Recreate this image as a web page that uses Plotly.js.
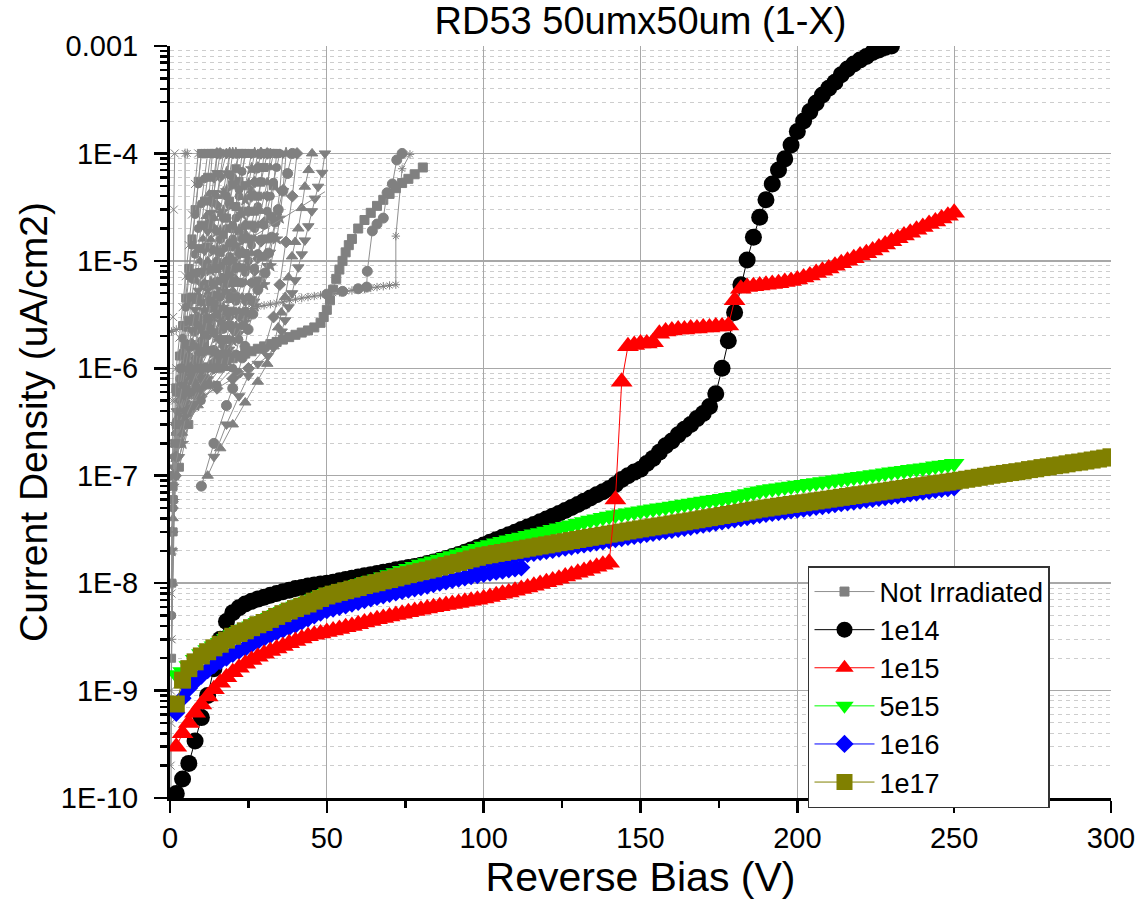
<!DOCTYPE html>
<html><head><meta charset="utf-8">
<script src="https://cdn.plot.ly/plotly-3.0.1.min.js"></script>
<style>html,body{margin:0;padding:0;background:#fff}#chart{width:1145px;height:920px}</style>
</head><body><div id="chart"></div>
<script>
// ---- axis tick labels ----
const yTickVals = [1e-10,1e-9,1e-8,1e-7,1e-6,1e-5,1e-4,1e-3];
const yTickText = ['1E-10','1E-9','1E-8','1E-7','1E-6','1E-5','1E-4','0.001'];
const xTickVals = [0,50,100,150,200,250,300];

// ---- bias steps (V) used by the irradiated samples ----
const biasV = [2,4,6,8,10,12,14,16,18,20,22,24,26,28,30,32,34,36,38,40,
42,44,46,48,50,52,54,56,58,60,62,64,66,68,70,72,74,76,78,80,
82,84,86,88,90,92,94,96,98,100,102,104,106,108,110,112,114,116,118,120,
122,124,126,128,130,132,134,136,138,140,142,144,146,148,150,152,154,156,158,160,
162,164,166,168,170,172,174,176,178,180,182,184,186,188,190,192,194,196,198,200,
202,204,206,208,210,212,214,216,218,220,222,224,226,228,230,232,234,236,238,240,
242,244,246,248,250,252,254,256,258,260,262,264,266,268,270,272,274,276,278,280,
282,284,286,288,290,292,294,296,298,300];

// 1e14 : 2 .. 230 V
const j1e14Start = 2;
const j1e14 = [1.1e-10,1.5e-10,2.1e-10,3.4e-10,5.6e-10,9e-10,1.6e-9,3.0e-9,4.4e-9,5.3e-9,
5.9e-9,6.4e-9,6.8e-9,7.1e-9,7.4e-9,7.7e-9,8.0e-9,8.3e-9,8.6e-9,8.9e-9,
9.1e-9,9.4e-9,9.6e-9,9.8e-9,1.0e-8,1.02e-8,1.05e-8,1.08e-8,1.11e-8,1.14e-8,
1.17e-8,1.2e-8,1.23e-8,1.26e-8,1.29e-8,1.33e-8,1.36e-8,1.4e-8,1.43e-8,1.47e-8,
1.52e-8,1.57e-8,1.63e-8,1.7e-8,1.77e-8,1.85e-8,1.94e-8,2.04e-8,2.15e-8,2.27e-8,
2.4e-8,2.53e-8,2.67e-8,2.82e-8,2.98e-8,3.15e-8,3.33e-8,3.52e-8,3.72e-8,3.95e-8,
4.2e-8,4.45e-8,4.75e-8,5.05e-8,5.4e-8,5.8e-8,6.2e-8,6.65e-8,7.1e-8,7.6e-8,
8.3e-8,9.2e-8,1.0e-7,1.08e-7,1.15e-7,1.3e-7,1.45e-7,1.65e-7,1.9e-7,2.1e-7,
2.4e-7,2.7e-7,3.0e-7,3.4e-7,3.8e-7,4.4e-7,5.8e-7,1.0e-6,1.8e-6,3.3e-6,
6.0e-6,1.02e-5,1.66e-5,2.55e-5,3.7e-5,5.2e-5,7.0e-5,8.9e-5,1.2e-4,1.6e-4,
2.0e-4,2.45e-4,2.95e-4,3.5e-4,4.05e-4,4.6e-4,5.4e-4,6.1e-4,6.8e-4,7.4e-4,
8.0e-4,8.7e-4,9.2e-4,9.7e-4,1.0e-3];

// 1e15 : 2 .. 250 V
const j1e15Start = 2;
const j1e15 = [3.0e-10,4.0e-10,5.0e-10,6.2e-10,7.4e-10,8.8e-10,1.03e-9,1.18e-9,1.33e-9,1.48e-9,
1.63e-9,1.78e-9,1.93e-9,2.07e-9,2.2e-9,2.33e-9,2.46e-9,2.6e-9,2.75e-9,2.9e-9,
3.05e-9,3.2e-9,3.3e-9,3.4e-9,3.5e-9,3.62e-9,3.75e-9,3.88e-9,4.0e-9,4.15e-9,
4.3e-9,4.45e-9,4.6e-9,4.75e-9,4.9e-9,5.05e-9,5.2e-9,5.35e-9,5.5e-9,5.65e-9,
5.8e-9,5.95e-9,6.1e-9,6.25e-9,6.4e-9,6.55e-9,6.7e-9,6.85e-9,7.0e-9,7.2e-9,
7.45e-9,7.7e-9,7.95e-9,8.2e-9,8.5e-9,8.8e-9,9.1e-9,9.45e-9,9.8e-9,1.02e-8,
1.06e-8,1.1e-8,1.15e-8,1.2e-8,1.25e-8,1.3e-8,1.36e-8,1.42e-8,1.48e-8,1.55e-8,
6.0e-8,7.5e-7,1.6e-6,1.65e-6,1.7e-6,1.7e-6,1.75e-6,2.1e-6,2.2e-6,2.25e-6,
2.3e-6,2.3e-6,2.35e-6,2.35e-6,2.4e-6,2.4e-6,2.45e-6,2.45e-6,2.5e-6,4.3e-6,
5.5e-6,5.7e-6,5.8e-6,5.9e-6,6.0e-6,6.1e-6,6.2e-6,6.35e-6,6.5e-6,6.7e-6,
7.0e-6,7.3e-6,7.7e-6,8.1e-6,8.5e-6,9.0e-6,9.5e-6,1.0e-5,1.06e-5,1.12e-5,
1.18e-5,1.25e-5,1.33e-5,1.42e-5,1.52e-5,1.62e-5,1.72e-5,1.83e-5,1.95e-5,2.07e-5,
2.2e-5,2.33e-5,2.48e-5,2.63e-5,2.8e-5];

// 5e15 : 2 .. 250 V
const j5e15Start = 2;
const j5e15 = [1.4e-9,1.5e-9,1.7e-9,1.95e-9,2.2e-9,2.4e-9,2.6e-9,2.8e-9,3.05e-9,3.3e-9,
3.55e-9,3.75e-9,4.0e-9,4.3e-9,4.5e-9,4.8e-9,5.1e-9,5.45e-9,5.8e-9,6.1e-9,
6.4e-9,6.75e-9,7.1e-9,7.55e-9,8.0e-9,8.3e-9,8.65e-9,8.95e-9,9.3e-9,9.7e-9,
1.01e-8,1.05e-8,1.09e-8,1.14e-8,1.2e-8,1.25e-8,1.31e-8,1.37e-8,1.43e-8,1.5e-8,
1.55e-8,1.61e-8,1.67e-8,1.73e-8,1.8e-8,1.87e-8,1.94e-8,2.02e-8,2.1e-8,2.2e-8,
2.28e-8,2.36e-8,2.44e-8,2.52e-8,2.6e-8,2.68e-8,2.77e-8,2.86e-8,2.95e-8,3.04e-8,
3.15e-8,3.26e-8,3.37e-8,3.48e-8,3.6e-8,3.72e-8,3.84e-8,3.96e-8,4.08e-8,4.2e-8,
4.3e-8,4.4e-8,4.5e-8,4.6e-8,4.7e-8,4.8e-8,4.9e-8,5.0e-8,5.1e-8,5.2e-8,
5.3e-8,5.42e-8,5.54e-8,5.66e-8,5.78e-8,5.9e-8,6.02e-8,6.15e-8,6.28e-8,6.4e-8,
6.6e-8,6.8e-8,7.0e-8,7.2e-8,7.4e-8,7.55e-8,7.7e-8,7.85e-8,8.0e-8,8.15e-8,
8.3e-8,8.46e-8,8.62e-8,8.78e-8,8.95e-8,9.12e-8,9.3e-8,9.48e-8,9.66e-8,9.85e-8,
1.0e-7,1.02e-7,1.04e-7,1.06e-7,1.08e-7,1.1e-7,1.12e-7,1.14e-7,1.16e-7,1.18e-7,
1.2e-7,1.23e-7,1.25e-7,1.27e-7,1.3e-7];

// 1e16 : first sweep 2 .. 112 V, second sweep 96 .. 250 V
const j1e16aStart = 2;
const j1e16a = [6.2e-10,8.5e-10,1.05e-9,1.22e-9,1.38e-9,1.55e-9,1.72e-9,1.88e-9,2.03e-9,2.2e-9,
2.35e-9,2.5e-9,2.7e-9,2.9e-9,3.1e-9,3.3e-9,3.5e-9,3.7e-9,3.9e-9,4.1e-9,
4.4e-9,4.7e-9,5.0e-9,5.3e-9,5.6e-9,5.8e-9,6.0e-9,6.2e-9,6.45e-9,6.7e-9,
6.95e-9,7.2e-9,7.45e-9,7.7e-9,7.95e-9,8.2e-9,8.45e-9,8.7e-9,8.95e-9,9.2e-9,
9.5e-9,9.8e-9,1.01e-8,1.04e-8,1.07e-8,1.1e-8,1.13e-8,1.16e-8,1.19e-8,1.22e-8,
1.25e-8,1.28e-8,1.31e-8,1.34e-8,1.37e-8,1.4e-8];
const j1e16bStart = 96;
const j1e16b = [1.5e-8,1.55e-8,1.6e-8,1.63e-8,1.67e-8,1.71e-8,1.75e-8,1.79e-8,1.83e-8,1.87e-8,
1.91e-8,1.95e-8,2.0e-8,2.04e-8,2.09e-8,2.14e-8,2.19e-8,2.24e-8,2.29e-8,2.34e-8,
2.4e-8,2.45e-8,2.51e-8,2.57e-8,2.63e-8,2.69e-8,2.75e-8,2.81e-8,2.87e-8,2.94e-8,
3.0e-8,3.06e-8,3.13e-8,3.2e-8,3.27e-8,3.34e-8,3.42e-8,3.5e-8,3.58e-8,3.66e-8,
3.75e-8,3.84e-8,3.93e-8,4.02e-8,4.12e-8,4.22e-8,4.32e-8,4.42e-8,4.5e-8,4.58e-8,
4.66e-8,4.75e-8,4.84e-8,4.93e-8,5.02e-8,5.12e-8,5.22e-8,5.32e-8,5.43e-8,5.54e-8,
5.65e-8,5.75e-8,5.86e-8,5.98e-8,6.09e-8,6.2e-8,6.33e-8,6.45e-8,6.57e-8,6.7e-8,
6.84e-8,6.97e-8,7.1e-8,7.24e-8,7.38e-8,7.52e-8,7.67e-8,7.8e-8];

// 1e17 : 2 .. 300 V
const j1e17Start = 2;
const j1e17 = [7.5e-10,1.25e-9,1.6e-9,1.85e-9,2.1e-9,2.3e-9,2.5e-9,2.7e-9,2.95e-9,3.2e-9,
3.4e-9,3.6e-9,3.85e-9,4.1e-9,4.3e-9,4.6e-9,4.9e-9,5.2e-9,5.5e-9,5.8e-9,
6.1e-9,6.4e-9,6.8e-9,7.2e-9,7.6e-9,7.9e-9,8.2e-9,8.5e-9,8.8e-9,9.1e-9,
9.5e-9,9.8e-9,1.01e-8,1.05e-8,1.08e-8,1.12e-8,1.16e-8,1.2e-8,1.24e-8,1.28e-8,
1.32e-8,1.36e-8,1.41e-8,1.46e-8,1.51e-8,1.56e-8,1.62e-8,1.68e-8,1.74e-8,1.8e-8,
1.84e-8,1.89e-8,1.93e-8,1.98e-8,2.02e-8,2.07e-8,2.12e-8,2.17e-8,2.22e-8,2.27e-8,
2.32e-8,2.38e-8,2.43e-8,2.49e-8,2.55e-8,2.61e-8,2.67e-8,2.73e-8,2.79e-8,2.86e-8,
2.92e-8,2.99e-8,3.06e-8,3.13e-8,3.2e-8,3.27e-8,3.34e-8,3.41e-8,3.48e-8,3.56e-8,
3.64e-8,3.72e-8,3.8e-8,3.89e-8,3.98e-8,4.07e-8,4.16e-8,4.26e-8,4.36e-8,4.46e-8,
4.57e-8,4.68e-8,4.79e-8,4.9e-8,5.0e-8,5.1e-8,5.2e-8,5.3e-8,5.4e-8,5.5e-8,
5.6e-8,5.7e-8,5.82e-8,5.93e-8,6.05e-8,6.17e-8,6.29e-8,6.41e-8,6.53e-8,6.66e-8,
6.79e-8,6.92e-8,7.05e-8,7.19e-8,7.33e-8,7.47e-8,7.62e-8,7.77e-8,7.92e-8,8.07e-8,
8.23e-8,8.39e-8,8.55e-8,8.72e-8,8.9e-8,9.08e-8,9.27e-8,9.47e-8,9.67e-8,9.88e-8,
1.01e-7,1.03e-7,1.05e-7,1.07e-7,1.09e-7,1.11e-7,1.14e-7,1.16e-7,1.19e-7,1.21e-7,
1.24e-7,1.26e-7,1.29e-7,1.32e-7,1.34e-7,1.37e-7,1.4e-7,1.43e-7,1.46e-7,1.5e-7];

// ---- Not Irradiated: many individual sensors ----
const na01V = [0.3,0.4,0.5,0.6,0.7,0.8,1.0,1.2,1.5];
const na01J = [1.0e-10,5e-10,3e-9,2e-8,1e-7,5e-7,3e-6,3e-5,1e-4];
const na02V = [0.5,1,1.5,2,2.5,3,3.5,4,4.5,4.8,4.8,5.5];
const na02J = [3e-9,2e-8,6e-8,1.2e-7,2e-7,3e-7,4.5e-7,6.5e-7,8.5e-7,1e-6,1e-4,1e-4];
const na03V = [0.5,1,1.5,2,3,4,5,6,7,8,9,10,12];
const na03J = [2e-9,3e-8,2e-7,6e-7,1.3e-6,2.5e-6,4.5e-6,8.5e-6,1.6e-5,3e-5,5.5e-5,1e-4,1e-4];
const na04V = [0.6,1.2,2,3,4,5,6,7,8,9,10,11,12,14];
const na04J = [5e-9,6e-8,3e-7,8e-7,1.4e-6,2.4e-6,4e-6,6.8e-6,1.15e-5,2e-5,3.4e-5,5.8e-5,1e-4,1e-4];
const na05V = [0.8,1.5,2.5,3.5,4.5,5.5,6.5,7.5,8.5,9.5,10.5,11.5,12.5,13.5,16];
const na05J = [1e-8,1e-7,3.5e-7,7e-7,1.1e-6,1.7e-6,2.7e-6,4.2e-6,6.5e-6,1e-5,1.6e-5,2.6e-5,4.2e-5,1e-4,1e-4];
const na06V = [0.5,1,2,3,4,5,6,7,8,9,10,11,12,13,14,15,17];
const na06J = [2e-8,1.2e-7,4e-7,6.5e-7,9e-7,1.2e-6,1.6e-6,2.2e-6,3e-6,4.2e-6,6e-6,9e-6,1.4e-5,2.3e-5,4e-5,1e-4,1e-4];
const na07V = [1,2,3,4,5,6,7,8,9,10,11,12,13,14,15,16,18];
const na07J = [5e-8,2.5e-7,5e-7,7.5e-7,1e-6,1.3e-6,1.7e-6,2.2e-6,3e-6,4.2e-6,6e-6,8.5e-6,1.3e-5,2e-5,3.3e-5,6e-5,1e-4];
const na08V = [1,2,4,6,8,10,11,12,13,14,15,16,17,18,19,21];
const na08J = [8e-8,3e-7,7e-7,1.1e-6,1.6e-6,2.6e-6,3.4e-6,4.6e-6,6.3e-6,9e-6,1.3e-5,1.9e-5,2.9e-5,4.5e-5,1e-4,1e-4];
const na09V = [0.8,2,4,6,8,10,12,13,14,15,16,17,18,19,20,22];
const na09J = [3e-8,2e-7,5e-7,8e-7,1.2e-6,1.8e-6,2.8e-6,3.6e-6,4.8e-6,6.5e-6,9e-6,1.3e-5,2e-5,3.3e-5,6e-5,1e-4];
const na10V = [1.5,3,5,7,9,11,13,15,16,17,18,19,20,21,22,23];
const na10J = [1e-7,3.5e-7,6.5e-7,9.5e-7,1.3e-6,1.8e-6,2.6e-6,4e-6,5.2e-6,7e-6,9.5e-6,1.35e-5,2e-5,3.2e-5,5.5e-5,1e-4];
const na11V = [1,3,6,9,12,15,17,19,20,21,22,23,24,25,26,27,28];
const na11J = [4e-8,2.5e-7,5.5e-7,9e-7,1.4e-6,2.2e-6,3e-6,4.3e-6,5.3e-6,6.8e-6,9e-6,1.25e-5,1.8e-5,2.8e-5,4.5e-5,7e-5,1e-4];
const na12V = [2,5,8,11,14,17,19,21,23,24,25,26,27,28,29,30];
const na12J = [1.5e-7,4e-7,7e-7,1e-6,1.5e-6,2.3e-6,3e-6,4.2e-6,6.2e-6,7.8e-6,1e-5,1.4e-5,2e-5,3.2e-5,5.5e-5,1e-4];
const na13V = [2,5,8,11,14,17,20,22,24,26,27,28,29,30,31,32];
const na13J = [1e-7,3e-7,5.5e-7,8e-7,1.15e-6,1.6e-6,2.3e-6,3e-6,4.2e-6,6.2e-6,8e-6,1.05e-5,1.5e-5,2.3e-5,4e-5,1e-4];
const na14V = [3,6,9,12,15,18,21,24,26,28,30,31,32,33,34];
const na14J = [1.2e-7,3e-7,5e-7,7.5e-7,1.05e-6,1.5e-6,2.2e-6,3.2e-6,4.3e-6,6.5e-6,1.1e-5,1.6e-5,2.6e-5,5e-5,1e-4];
const na15V = [3,7,11,15,19,22,25,27,29,31,32,33,34,35,36];
const na15J = [1.5e-7,4e-7,7e-7,1e-6,1.5e-6,2.1e-6,3.1e-6,4.2e-6,6e-6,9e-6,1.2e-5,1.7e-5,2.6e-5,4.5e-5,1e-4];
const na16V = [4,8,12,16,20,24,27,30,32,34,35,36,37];
const na16J = [2e-7,4.5e-7,8e-7,1.2e-6,1.8e-6,2.7e-6,3.8e-6,6e-6,9e-6,1.6e-5,2.5e-5,4.5e-5,1e-4];
const na17V = [2,5,8,10,12,14,15,16,17,18,19,20,21,22,24];
const na17J = [1.5e-7,4.5e-7,9e-7,1.35e-6,2e-6,3e-6,3.8e-6,4.8e-6,6.2e-6,8.2e-6,1.1e-5,1.6e-5,2.5e-5,4e-5,1e-4];
const na18V = [1,3,6,9,11,13,15,17,18,19,20,21,22,23,24,26];
const na18J = [6e-8,2.5e-7,6e-7,1.1e-6,1.6e-6,2.3e-6,3.4e-6,5e-6,6.2e-6,7.8e-6,1e-5,1.35e-5,1.9e-5,2.9e-5,5e-5,1e-4];
const na19V = [10,14,18,20,21.7,23,23.9,24.9,26.4,28,30.3,31.4,32.4,33.5,34.5,36,37.5,39];
const na19J = [8e-8,2e-7,4.5e-7,6.5e-7,9e-7,1.25e-6,1.6e-6,2.3e-6,3.2e-6,5.4e-6,7.7e-6,1.18e-5,1.66e-5,2.3e-5,3e-5,4.5e-5,6.5e-5,1e-4];
const na20V = [12,16,20,24,28,31,33,34.5,35.5,36.7,37.8,38.9,39.9,40.9,42,43,44.2,45.3];
const na20J = [1e-7,1.8e-7,3e-7,4.8e-7,7.5e-7,1.1e-6,1.6e-6,2.4e-6,3.3e-6,4.6e-6,7e-6,1.1e-5,1.5e-5,2e-5,3.1e-5,4.9e-5,7e-5,1e-4];
const na21V = [14,18,22,25,28,31.2,33,34.5,35.6,36.7,37.8,38.9,39.9,40.9,42,43,44.1,45.2,46.2,47.2,48.5,49.4];
const na21J = [1.5e-7,3e-7,5.5e-7,8.5e-7,1.1e-6,1.3e-6,1.55e-6,1.8e-6,2.2e-6,2.8e-6,3.7e-6,5e-6,6.6e-6,8.7e-6,1.15e-5,1.55e-5,2.1e-5,2.9e-5,3.8e-5,4.9e-5,6.6e-5,1e-4];
const na22V = [0.5,2,4,6,8,10,12,14,16,18,20,22,24,26,28,30,32,34,36,38,40,42,44,46,48,50,52,54,56,58,60,62,64,66,68,70,72,72,74,76.5];
const na22J = [2.2e-6,2.3e-6,2.4e-6,2.5e-6,2.6e-6,2.7e-6,2.8e-6,2.95e-6,3.05e-6,3.15e-6,3.3e-6,3.4e-6,3.5e-6,3.6e-6,3.75e-6,3.85e-6,3.95e-6,4.05e-6,4.15e-6,4.3e-6,4.4e-6,4.5e-6,4.6e-6,4.7e-6,4.8e-6,4.9e-6,5.0e-6,5.1e-6,5.2e-6,5.3e-6,5.4e-6,5.5e-6,5.6e-6,5.7e-6,5.8e-6,5.9e-6,6.0e-6,1.7e-5,7.2e-5,9.8e-5];
const na23V = [2,4,6,8,10,12,14,16,18,20,22,24,26,28,30,32,34,36,38,40,42,44,46,48,49,50,51,52,53,54,55,56,57,58,60,62,64,66,68,70,72,74,76,78,80.6];
const na23J = [6.5e-7,7.5e-7,8.3e-7,9e-7,9.6e-7,1.02e-6,1.07e-6,1.12e-6,1.18e-6,1.24e-6,1.3e-6,1.37e-6,1.44e-6,1.52e-6,1.6e-6,1.68e-6,1.76e-6,1.85e-6,1.95e-6,2.05e-6,2.15e-6,2.25e-6,2.4e-6,2.65e-6,3e-6,3.5e-6,4.3e-6,5.4e-6,6.8e-6,8.3e-6,1.0e-5,1.2e-5,1.4e-5,1.6e-5,2e-5,2.4e-5,2.8e-5,3.25e-5,3.7e-5,4.2e-5,4.75e-5,5.3e-5,5.8e-5,6.4e-5,7.4e-5];
const na24V = [50,55,60,62.7,62.9,64.5,66,68,69.2,70.9,72.3,74];
const na24J = [4.9e-6,5.2e-6,5.5e-6,5.7e-6,8e-6,1.9e-5,2.2e-5,2.5e-5,4.3e-5,5.2e-5,8.7e-5,1e-4];
const na25V = [19.7,49.4];
const na25J = [1.26e-5,4.4e-5];
const na26V = [2,6,10,15,20,25,30,33,35,37,39,40.5];
const na26J = [3e-7,4.5e-7,5.5e-7,6.5e-7,8e-7,1e-6,1.5e-6,3e-6,6e-6,1.5e-5,4e-5,1e-4];
const na27V = [0.5,1,2,3,4,5,6,7,8,9,10,11];
const na27J = [5e-9,5e-8,3e-7,1e-6,1.9e-6,3.7e-6,7.2e-6,1.4e-5,2.7e-5,5.2e-5,1e-4,1e-4];
const na28V = [0.6,1.2,2,3,4,5,6,7,8,9,10,11,12,13,14];
const na28J = [1e-8,1e-7,3e-7,6e-7,1e-6,1.67e-6,2.8e-6,4.6e-6,7.7e-6,1.3e-5,2.15e-5,3.6e-5,6e-5,1e-4,1e-4];
const na29V = [0.7,1.5,3,4.5,6,7,8,9,10,11,12,13,14,15,16];
const na29J = [3e-8,1.5e-7,4e-7,7e-7,1e-6,1.67e-6,2.8e-6,4.6e-6,7.7e-6,1.3e-5,2.15e-5,3.6e-5,6e-5,1e-4,1e-4];
const na30V = [1,2,4,5.5,7,8,9,10,11,12,13,14,15,16,17,19];
const na30J = [6e-8,2.5e-7,5e-7,7.5e-7,1e-6,1.58e-6,2.5e-6,4e-6,6.3e-6,1e-5,1.58e-5,2.5e-5,4e-5,6.3e-5,1e-4,1e-4];
const na31V = [0.5,1.5,3,5,6.5,8,9,10,11,12,13,14,15,16,17,18,19,20];
const na31J = [2e-8,1.5e-7,4e-7,6.5e-7,8.5e-7,1e-6,1.52e-6,2.3e-6,3.5e-6,5.3e-6,8.1e-6,1.23e-5,1.87e-5,2.8e-5,4.3e-5,6.6e-5,1e-4,1e-4];
const na32V = [1,3,5,7.5,10,11,12,13,14,15,16,17,18,19,20,22];
const na32J = [1e-7,3.5e-7,5.5e-7,7.5e-7,1e-6,1.58e-6,2.5e-6,4e-6,6.3e-6,1e-5,1.58e-5,2.5e-5,4e-5,6.3e-5,1e-4,1e-4];
const na33V = [0.4,1,2.5,4,5,6,7,8,9,10,11,12,13,14,15,16,18];
const na33J = [1e-8,1e-7,4e-7,7e-7,1e-6,1.52e-6,2.3e-6,3.5e-6,5.3e-6,8.1e-6,1.23e-5,1.87e-5,2.8e-5,4.3e-5,6.6e-5,1e-4,1e-4];
const na34V = [0.2,0.3,0.5,0.7,1.2,1.6,2,3,4,5,6,7,8,9];
const na34J = [2e-10,1e-9,8e-9,3e-8,2e-7,5e-7,1e-6,1.93e-6,3.7e-6,7.2e-6,1.4e-5,2.7e-5,5.2e-5,1e-4];
const na35V = [1,3,6,9,10,11,12,13,14,15,16,17,18,19,20,21,22,24];
const na35J = [8e-8,3e-7,6e-7,1e-6,1.43e-6,2.05e-6,2.9e-6,4.2e-6,6e-6,8.5e-6,1.2e-5,1.75e-5,2.5e-5,3.6e-5,5.1e-5,7.2e-5,1e-4,1e-4];
const na36V = [2,5,8,10,12,13,14,15,16,17,18,19,20,21,22,23,24];
const na36J = [2e-7,4e-7,6e-7,8e-7,1e-6,1.47e-6,2.15e-6,3.2e-6,4.6e-6,6.8e-6,1e-5,1.47e-5,2.15e-5,3.2e-5,4.6e-5,6.8e-5,1e-4];
const na37V = [2,6,10,14,15,16,17,18,19,20,21,22,23,24,25,26,27,28,29,31];
const na37J = [1.5e-7,4e-7,6.5e-7,1e-6,1.36e-6,1.85e-6,2.5e-6,3.4e-6,4.6e-6,6.3e-6,8.6e-6,1.17e-5,1.6e-5,2.15e-5,2.9e-5,4e-5,5.4e-5,7.4e-5,1e-4,1e-4];
const na38V = [3,8,12,16,17,18,19,20,21,22,23,24,25,26,27,28,29,30,31,33];
const na38J = [2e-7,4.5e-7,7e-7,1e-6,1.36e-6,1.85e-6,2.5e-6,3.4e-6,4.6e-6,6.3e-6,8.6e-6,1.17e-5,1.6e-5,2.15e-5,2.9e-5,4e-5,5.4e-5,7.4e-5,1e-4,1e-4];
const na39V = [4,9,14,18,19,20,21,22,23,24,25,26,27,28,29,30,31,32,33,35];
const na39J = [2.5e-7,4.5e-7,7e-7,1e-6,1.36e-6,1.85e-6,2.5e-6,3.4e-6,4.6e-6,6.3e-6,8.6e-6,1.17e-5,1.6e-5,2.15e-5,2.9e-5,4e-5,5.4e-5,7.4e-5,1e-4,1e-4];
const na40V = [5,10,15,20,21,22,23,24,25,26,27,28,29,30,31,32,33,34,35];
const na40J = [3e-7,5e-7,7e-7,1e-6,1.36e-6,1.85e-6,2.5e-6,3.4e-6,4.6e-6,6.3e-6,8.6e-6,1.17e-5,1.6e-5,2.15e-5,2.9e-5,4e-5,5.4e-5,7.4e-5,1e-4];
const na41V = [1,5,9,13,14,15,16,17,18,19,20,21,22,23,24,25,26,27,29];
const na41J = [1e-7,3.5e-7,6.5e-7,1e-6,1.39e-6,1.93e-6,2.7e-6,3.7e-6,5.2e-6,7.2e-6,1e-5,1.39e-5,1.93e-5,2.7e-5,3.7e-5,5.2e-5,7.2e-5,1e-4,1e-4];

const naCurves = [
  [na01V,na01J,'x-thin-open',8],[na02V,na02J,'asterisk-open',8],
  [na03V,na03J,'square',8],[na04V,na04J,'circle',8],[na05V,na05J,'triangle-up',9],
  [na06V,na06J,'triangle-down',9],[na07V,na07J,'diamond',8],[na08V,na08J,'star',9],
  [na09V,na09J,'circle',8],[na10V,na10J,'square',8],[na11V,na11J,'triangle-up',9],
  [na12V,na12J,'circle',8],[na13V,na13J,'diamond',8],[na14V,na14J,'square',8],
  [na15V,na15J,'triangle-down',9],[na16V,na16J,'star',9],[na17V,na17J,'circle',8],
  [na18V,na18J,'square',8],[na19V,na19J,'circle',10],[na20V,na20J,'triangle-up',10],
  [na21V,na21J,'triangle-down',10],[na22V,na22J,'asterisk-open',7],[na23V,na23J,'square',9],
  [na24V,na24J,'circle',10],[na25V,na25J,null,0],[na26V,na26J,'diamond',9],
  [na27V,na27J,'circle',8],[na28V,na28J,'square',8],[na29V,na29J,'diamond',9],
  [na30V,na30J,'triangle-up',9],[na31V,na31J,'star',9],[na32V,na32J,'circle',8],
  [na33V,na33J,'triangle-down',9],[na34V,na34J,'x-thin-open',8],[na35V,na35J,'square',8],
  [na36V,na36J,'circle',8],[na37V,na37J,'diamond',9],[na38V,na38J,'square',8],
  [na39V,na39J,'triangle-up',9],[na40V,na40J,'circle',8],[na41V,na41J,'star',9]
];

function seriesX(startV, n) {
  const i = biasV.indexOf(startV);
  return biasV.slice(i, i + n);
}

const GRAY = '#808080';
const traces = [];
naCurves.forEach(function (c) {
  const v = c[0], j = c[1], sym = c[2], sz = c[3];
  const isLegend = (v === na23V);
  traces.push({
    x: v, y: j, type: 'scatter', mode: sym ? 'lines+markers' : 'lines',
    name: 'Not Irradiated', legendgroup: 'na', legendrank: 1,
    showlegend: isLegend,
    line: {color: '#8f8f8f', width: 1},
    marker: {symbol: sym || 'circle', size: sz, color: GRAY, line: {color: GRAY, width: 1}},
    hoverinfo: 'skip'
  });
});

function addSeries(name, rank, startV, vals, color, symbol, size, show, group) {
  traces.push({
    x: seriesX(startV, vals.length), y: vals, type: 'scatter', mode: 'lines+markers',
    name: name, legendrank: rank, showlegend: show, legendgroup: group,
    line: {color: color, width: 1},
    marker: {symbol: symbol, size: size, color: color, line: {width: 0}},
    hoverinfo: 'skip'
  });
}
addSeries('1e14', 2, j1e14Start, j1e14, '#000000', 'circle', 17, true, 'a');
addSeries('5e15', 4, j5e15Start, j5e15, '#00ff00', 'triangle-down', 18, true, 'c');
addSeries('1e16', 5, j1e16bStart, j1e16b, '#0000ff', 'diamond', 14, false, 'd');
addSeries('1e16', 5, j1e16aStart, j1e16a, '#0000ff', 'diamond', 14, true, 'd');
addSeries('1e17', 6, j1e17Start, j1e17, '#808000', 'square', 17, true, 'e');
addSeries('1e15', 3, j1e15Start, j1e15, '#ff0000', 'triangle-up', 19, true, 'b');

const FONT = '"Liberation Sans", Arial, Helvetica, sans-serif';
const layout = {
  width: 1145, height: 920,
  margin: {l: 170, r: 34, t: 46, b: 122},
  paper_bgcolor: '#ffffff', plot_bgcolor: '#ffffff',
  font: {family: FONT, color: '#000000', size: 29},
  title: {text: 'RD53 50umx50um (1-X)', font: {family: FONT, size: 38, color: '#000'},
          x: 0.5, xref: 'paper', xanchor: 'center', y: 0.977, yref: 'container', yanchor: 'middle'},
  xaxis: {
    range: [0, 300], tickmode: 'array', tickvals: xTickVals,
    showline: true, linecolor: '#000', linewidth: 3, mirror: false,
    ticks: 'outside', ticklen: 12, tickwidth: 2.5, tickcolor: '#000',
    tickfont: {family: FONT, size: 29, color: '#000'},
    showgrid: true, gridcolor: '#a8a8a8', gridwidth: 1.3, zeroline: false,
    minor: {tickmode: 'linear', tick0: 0, dtick: 25, ticks: 'outside', ticklen: 7, tickwidth: 2.5, tickcolor: '#000', showgrid: false},
    title: {text: 'Reverse Bias (V)', font: {family: FONT, size: 41, color: '#000'}, standoff: 2},
    automargin: false
  },
  yaxis: {
    type: 'log', range: [-10, -3], tickmode: 'array', tickvals: yTickVals, ticktext: yTickText,
    showline: true, linecolor: '#000', linewidth: 3, mirror: false,
    ticks: 'outside', ticklen: 13, tickwidth: 2.5, tickcolor: '#000', ticklabelstandoff: 10,
    tickfont: {family: FONT, size: 29, color: '#000'},
    showgrid: true, gridcolor: '#a8a8a8', gridwidth: 1.3, zeroline: false,
    minor: {dtick: 'D1', ticks: 'outside', ticklen: 7, tickwidth: 2.5, tickcolor: '#000',
            showgrid: true, gridcolor: '#cdcdcd', gridwidth: 1, griddash: '4px,4px'},
    title: {text: 'Current Density (uA/cm2)', font: {family: FONT, size: 39, color: '#000'}, standoff: 2},
    automargin: false
  },
  legend: {
    x: 0.678, y: 0.3085, xanchor: 'left', yanchor: 'top', xref: 'paper', yref: 'paper',
    bgcolor: '#ffffff', bordercolor: '#333333', borderwidth: 1.5,
    font: {family: FONT, size: 27, color: '#000'}, traceorder: 'normal', itemwidth: 60,
    tracegroupgap: 0
  },
  showlegend: true
};

Plotly.newPlot('chart', traces, layout, {displayModeBar: false, staticPlot: true});
</script>
</body></html>
